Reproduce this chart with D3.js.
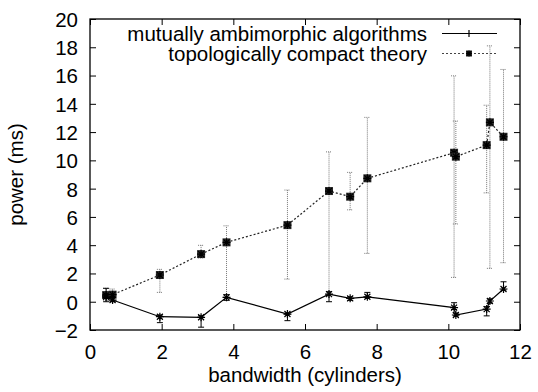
<!DOCTYPE html>
<html><head><meta charset="utf-8">
<script src="https://cdn.jsdelivr.net/npm/d3@7"></script>
<style>
html,body{margin:0;padding:0;background:#fff;}
text{font-family:"Liberation Sans",Arial,sans-serif;fill:#000;}
</style></head>
<body><svg id="c" width="538" height="392"></svg>
<script>
const xTicks = [0,2,4,6,8,10,12];
const yTicks = [-2,0,2,4,6,8,10,12,14,16,18,20];
const bandwidth = [0.45,0.63,1.95,3.1,3.81,5.51,6.67,7.26,7.74,10.16,10.21,11.07,11.16,11.54];
const seriesNames = ["mutually ambimorphic algorithms","topologically compact theory"];
const algoPower = [0.35,0.12,-1.06,-1.1,0.31,-0.87,0.54,0.24,0.35,-0.42,-0.94,-0.52,0.05,0.9];
const algoLow   = [0.0,0.0,-1.48,-1.8,0.1,-1.34,0.0,0.1,0.31,-0.55,-1.0,-1.0,-0.1,0.83];
const algoHigh  = [0.95,0.3,-0.94,-1.0,0.5,-0.87,0.71,0.35,0.66,-0.07,-0.8,-0.35,0.2,1.41];
const theoryPower = [0.47,0.5,1.89,3.37,4.2,5.42,7.83,7.43,8.73,10.54,10.26,11.08,12.69,11.67];
const theoryLow   = [0.1,0.15,0.66,3.1,0.4,1.6,0.5,6.5,3.42,1.72,5.5,7.7,2.36,2.76];
const theoryHigh  = [0.95,0.9,2.29,3.99,5.37,7.9,10.6,9.15,13.04,15.98,12.78,13.9,18.1,16.43];

const svg = d3.select("#c");
const L=90,R=520,T=19,B=330;
const x = d3.scaleLinear().domain([0,12]).range([L,R]);
const y = d3.scaleLinear().domain([-2,20]).range([B,T]);
const FS = 20.5;

// axes
const gx = svg.append("g").attr("transform",`translate(0,${B})`)
  .call(d3.axisBottom(x).tickValues(xTicks).tickSizeInner(-6).tickSizeOuter(0).tickPadding(14));
const gxt = svg.append("g").attr("transform",`translate(0,${T})`)
  .call(d3.axisTop(x).tickValues(xTicks).tickSizeInner(-6).tickSizeOuter(0).tickFormat(""));
const gy = svg.append("g").attr("transform",`translate(${L},0)`)
  .call(d3.axisLeft(y).tickValues(yTicks).tickSizeInner(-6).tickSizeOuter(0).tickPadding(12));
const gyr = svg.append("g").attr("transform",`translate(${R},0)`)
  .call(d3.axisRight(y).tickValues(yTicks).tickSizeInner(-6).tickSizeOuter(0).tickFormat(""));
[gx,gxt,gy,gyr].forEach(g=>{
  g.select(".domain").remove();
  g.selectAll("line").attr("stroke","#000").attr("stroke-width",1);
  g.selectAll("text").attr("font-size",FS).attr("font-family","Liberation Sans, Arial, sans-serif");
});
gy.selectAll("text").attr("dy","0.36em");
svg.append("rect").attr("x",L).attr("y",T).attr("width",R-L).attr("height",B-T)
  .attr("fill","none").attr("stroke","#000").attr("stroke-width",1.3);

// axis labels
svg.append("text").attr("x",(L+R)/2).attr("y",382).attr("text-anchor","middle")
  .attr("font-size",FS).text("bandwidth (cylinders)");
svg.append("text").attr("transform",`translate(23,${(T+B)/2}) rotate(-90)`)
  .attr("text-anchor","middle").attr("font-size",FS).text("power (ms)");

function star(g,cx,cy,r,col){
  const p=d3.path();
  p.moveTo(cx-r,cy);p.lineTo(cx+r,cy);
  p.moveTo(cx,cy-r);p.lineTo(cx,cy+r);
  p.moveTo(cx-r*0.75,cy-r*0.75);p.lineTo(cx+r*0.75,cy+r*0.75);
  p.moveTo(cx-r*0.75,cy+r*0.75);p.lineTo(cx+r*0.75,cy-r*0.75);
  g.append("path").attr("d",p.toString()).attr("stroke",col).attr("stroke-width",1.2).attr("fill","none");
}
function plus(g,cx,cy,r,col){
  const p=d3.path();
  p.moveTo(cx-r,cy);p.lineTo(cx+r,cy);
  p.moveTo(cx,cy-r);p.lineTo(cx,cy+r);
  g.append("path").attr("d",p.toString()).attr("stroke",col).attr("stroke-width",1.2).attr("fill","none");
}

// theory series (dotted)
const gT = svg.append("g");
bandwidth.forEach((b,i)=>{
  const cx=x(b);
  gT.append("line").attr("x1",cx).attr("x2",cx).attr("y1",y(theoryLow[i])).attr("y2",y(theoryHigh[i]))
    .attr("stroke","#777").attr("stroke-width",1).attr("stroke-dasharray","1,1");
  [theoryLow[i],theoryHigh[i]].forEach(v=>{
    gT.append("line").attr("x1",cx-3).attr("x2",cx+3).attr("y1",y(v)).attr("y2",y(v))
      .attr("stroke","#777").attr("stroke-width",1).attr("stroke-dasharray","1,1");
  });
});
const line = d3.line().x(d=>x(d[0])).y(d=>y(d[1]));
gT.append("path").attr("d",line(bandwidth.map((b,i)=>[b,theoryPower[i]])))
  .attr("fill","none").attr("stroke","#222").attr("stroke-width",1.2).attr("stroke-dasharray","2,2");
bandwidth.forEach((b,i)=>{
  const cx=x(b), cy=y(theoryPower[i]);
  gT.append("rect").attr("x",cx-4).attr("y",cy-4).attr("width",8).attr("height",8).attr("fill","#2a2a2a");
  star(gT,cx,cy,4,"#000");
});

// algorithms series (solid)
const gA = svg.append("g");
bandwidth.forEach((b,i)=>{
  const cx=x(b);
  gA.append("line").attr("x1",cx).attr("x2",cx).attr("y1",y(algoLow[i])).attr("y2",y(algoHigh[i]))
    .attr("stroke","#000").attr("stroke-width",1);
  [algoLow[i],algoHigh[i]].forEach(v=>{
    gA.append("line").attr("x1",cx-3).attr("x2",cx+3).attr("y1",y(v)).attr("y2",y(v))
      .attr("stroke","#000").attr("stroke-width",1);
  });
});
gA.append("path").attr("d",line(bandwidth.map((b,i)=>[b,algoPower[i]])))
  .attr("fill","none").attr("stroke","#000").attr("stroke-width",1.2);
bandwidth.forEach((b,i)=>{ star(gA,x(b),y(algoPower[i]),4,"#000"); });

// legend
const lg = svg.append("g");
const rows=[{y:41,ly:33.5},{y:60.5,ly:53.5}];
seriesNames.forEach((n,i)=>{
  lg.append("text").attr("x",427).attr("y",rows[i].y).attr("text-anchor","end").attr("font-size",FS).text(n);
});
lg.append("line").attr("x1",442).attr("x2",497).attr("y1",rows[0].ly).attr("y2",rows[0].ly)
  .attr("stroke","#000").attr("stroke-width",1.2);
plus(lg,469,rows[0].ly,3.5,"#000");
lg.append("line").attr("x1",442).attr("x2",497).attr("y1",rows[1].ly).attr("y2",rows[1].ly)
  .attr("stroke","#444").attr("stroke-width",1.2).attr("stroke-dasharray","2,2");
lg.append("rect").attr("x",466).attr("y",rows[1].ly-3).attr("width",6).attr("height",6).attr("fill","#2a2a2a");
star(lg,469,rows[1].ly,3,"#000");
</script></body></html>
